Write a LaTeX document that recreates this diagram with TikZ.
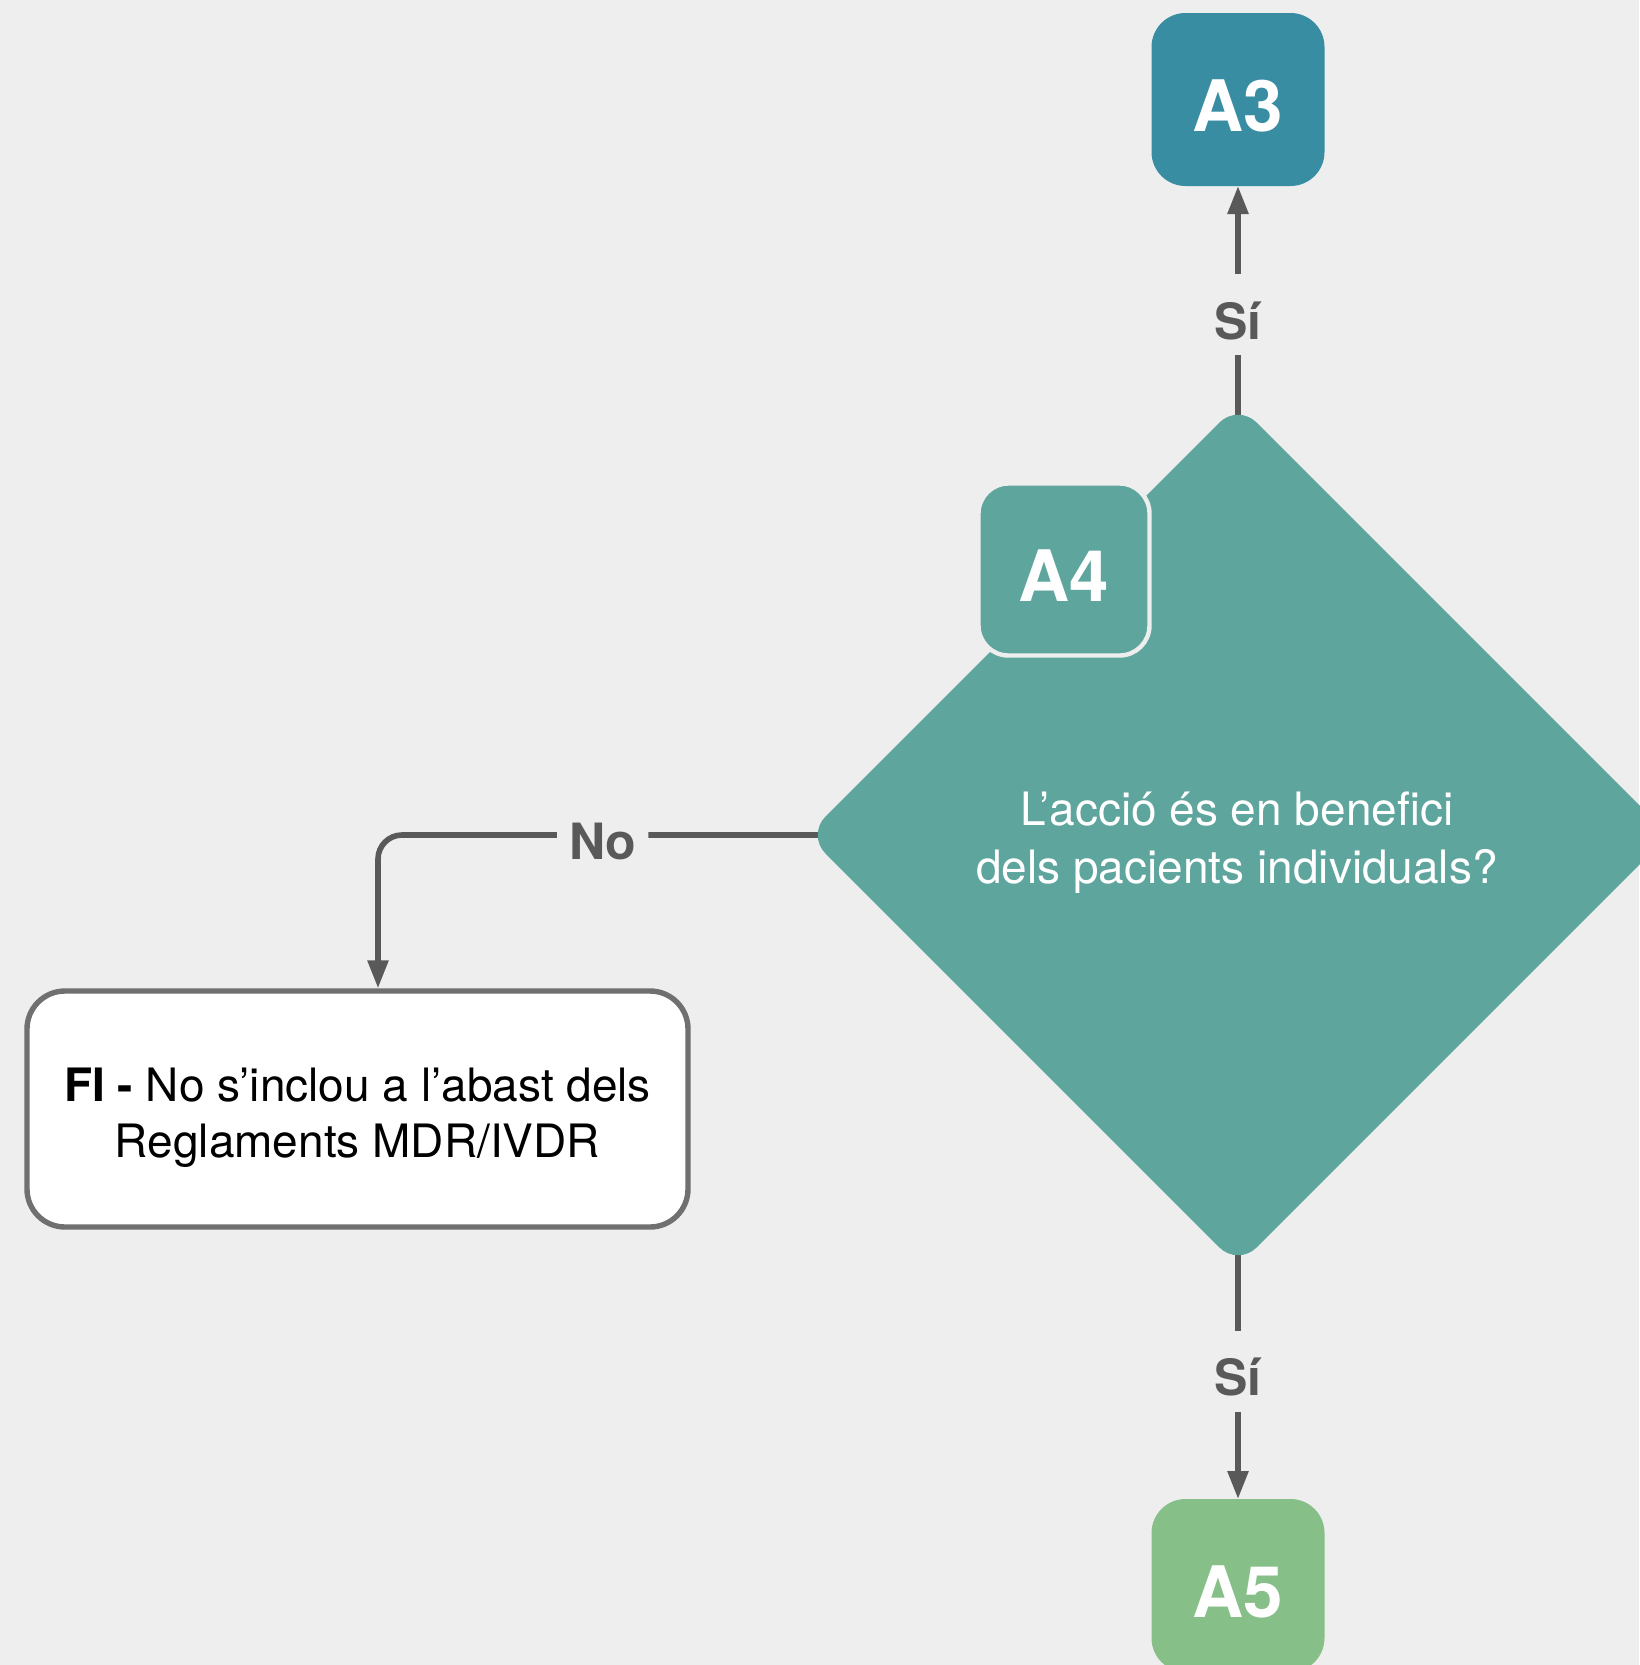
\documentclass[tikz,border=0pt]{standalone}
\usepackage{fontspec}
\setmainfont{TeX Gyre Heros}
\usetikzlibrary{shapes.geometric,arrows.meta,backgrounds}
\definecolor{bgc}{HTML}{EEEEEE}
\definecolor{a3c}{HTML}{388DA3}
\definecolor{diac}{HTML}{5EA59D}
\definecolor{a5c}{HTML}{86BF88}
\definecolor{lnc}{HTML}{595959}
\definecolor{fib}{HTML}{707070}
\begin{document}
\begin{tikzpicture}[x=0.5pt,y=-0.5pt,
  tag/.style={rectangle, rounded corners=17pt, minimum width=86.5pt, minimum height=86.5pt,
    inner sep=0pt, outer sep=0pt, text=white,
    font=\bfseries\fontsize{35.5pt}{36pt}\selectfont, text height=31.6pt, text depth=0pt},
  conn/.style={draw=lnc, line width=2.8pt, -{Triangle[width=10pt,length=14pt]}},
  lbl/.style={fill=bgc, text=lnc, font=\bfseries\fontsize{25pt}{26pt}\selectfont,
    inner xsep=6pt, inner ysep=8pt, text height=24.5pt, text depth=0pt},
  body/.style={align=center, inner sep=0pt}
]
\useasboundingbox (0,0) rectangle (1639,1665);

% boxes
\node[tag, fill=a3c] (a3) at (1238,99.5) {A3};
\node[diamond, aspect=1, fill=diac, minimum width=431pt, minimum height=431pt,
      inner sep=0pt, outer sep=0pt, rounded corners=13pt] (q) at (1238,835) {};
\node[body, text=white, font=\fontsize{23pt}{29pt}\selectfont] (qtext) at (1237,843)
  {L’acció és en benefici\\dels pacients individuals?};
\node[tag, fill=diac, draw=bgc, line width=2.2pt, minimum width=85.5pt, minimum height=86pt,
      rounded corners=15pt] (a4) at (1064,569.5) {A4};
\node[tag, fill=a5c] (a5) at (1238,1585.5) {A5};
\node[rectangle, rounded corners=19pt, draw=fib, fill=white, line width=2.7pt,
      minimum width=330.5pt, minimum height=118pt, inner sep=0pt] (fi) at (357.5,1109) {};
\node[body, text=black, font=\fontsize{23pt}{28pt}\selectfont] (fitext) at (357.5,1118)
  {\textbf{FI -} No s’inclou a l’abast dels\\Reglaments MDR/IVDR};

% background and connectors (they start just inside the diamond's rounded tips)
\begin{pgfonlayer}{background}
  \fill[bgc] (0,0) rectangle (1639,1665);
  \draw[conn] ([yshift=-12pt]q.north) -- node[lbl, pos=0.469] (l1) {Sí} (a3.south);
  \draw[conn] ([yshift=12pt]q.south) -- node[lbl, pos=0.502] (l2) {Sí} (a5.north);
  \draw[conn, rounded corners=12pt] ([xshift=12pt]q.west) -| node[lbl, pos=0.252] (l3) {No}
    ([xshift=10.25pt]fi.north);
\end{pgfonlayer}
\end{tikzpicture}
\end{document}
